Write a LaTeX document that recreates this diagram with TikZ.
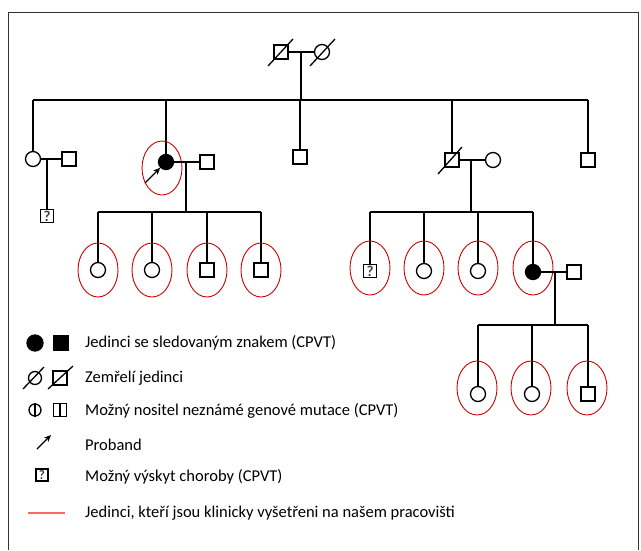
\documentclass[tikz,border=0pt]{standalone}
\usepackage{fontspec}
\setmainfont{Carlito}
\usetikzlibrary{shapes.geometric,arrows.meta,positioning,calc}

\tikzset{
  male/.style={draw, rectangle, minimum size=14pt, inner sep=0pt, line width=1.3pt},
  female/.style={draw, circle, minimum size=15pt, inner sep=0pt, line width=1.3pt},
  affected/.style={fill=black},
  unknown/.style={male, minimum size=13pt, font=\fontsize{15}{15}\selectfont\bfseries, text=black!75},
  exam/.style={draw=red!80!black, ellipse, minimum width=40pt, minimum height=54pt, inner sep=0pt, line width=0.9pt},
  line/.style={line width=1.3pt},
  proband/.style={-{Stealth[length=7pt,width=6pt]}, line width=1.4pt},
  legend/.style={anchor=west, inner sep=0pt, font=\fontsize{16.5}{19}\selectfont},
}

\begin{document}
\begin{tikzpicture}[x=1pt, y=-1pt]
    \useasboundingbox (0,0) rectangle (641,550);
    \draw[line width=1pt, black!80] (8,550) -- (8,12) -- (638,12) -- (638,550); % frame

    % grandparents
    \node[male] (gpa) at (281,52) {};
    \node[female] (gma) at (322,52) {};
    \draw[line] (gpa) -- (gma);
    \draw[line] ($(gpa)+(-13,14)$) -- ($(gpa)+(12,-13)$);
    \draw[line] ($(gma)+(-12,14)$) -- ($(gma)+(13,-13)$);
    \coordinate (m0) at (301,52);
    \coordinate (s0) at (301,100);
    \draw[line] (m0) -- (s0);

    % second generation
    \node[female] (a1) at (33,159) {};
    \node[male] (a1s) at (69,159) {};
    \node[unknown] (a1c) at (47,216) {?};
    \node[female, affected] (a2) at (166,162) {};
    \node[male] (a2s) at (207,162) {};
    \node[male] (a3) at (300,157) {};
    \node[male] (a4) at (452,160) {};
    \node[female] (a4s) at (493,160) {};
    \node[male] (a5) at (588,160) {};
    \draw[line] (a1 |- s0) -- (a5 |- s0);
    \foreach \n in {a1,a2,a3,a4,a5}
        \draw[line] (\n |- s0) -- (\n);
    \draw[line] ($(a4)+(-14,14)$) -- ($(a4)+(10,-13)$); % deceased
    \node[exam] (e0) at (162,168) {};
    \draw[proband] (145,183) -- (a2.south west);

    \draw[line] (a1) -- (a1s);
    \coordinate (m1) at (47,159);
    \draw[line] (m1) -- (a1c);

    \draw[line] (a2) -- (a2s);
    \coordinate (m2) at (186,162);
    \coordinate (s2) at (186,212);
    \draw[line] (m2) -- (s2);

    \draw[line] (a4) -- (a4s);
    \coordinate (m4) at (471,160);
    \coordinate (s4) at (471,212);
    \draw[line] (m4) -- (s4);

    % third generation
    \node[female] (b1) at (98,270) {};
    \node[female] (b2) at (152,270) {};
    \node[male] (b3) at (207,270) {};
    \node[male] (b4) at (261,270) {};
    \draw[line] (b1 |- s2) -- (b4 |- s2);
    \foreach \n in {b1,b2,b3,b4} {
        \draw[line] (\n |- s2) -- (\n);
        \node[exam] at (\n) {};
    }

    \node[unknown] (c1) at (370,271) {?};
    \node[female] (c2) at (424,271) {};
    \node[female] (c3) at (478,271) {};
    \node[female, affected] (c4) at (533,272) {};
    \node[male] (c4s) at (574,272) {};
    \draw[line] (c1 |- s4) -- (c4 |- s4);
    \foreach \n in {c1,c2,c3,c4} {
        \draw[line] (\n |- s4) -- (\n);
        \node[exam] at ($(\n |- s4)+(0,56)$) {};
    }
    \draw[line] (c4) -- (c4s);
    \coordinate (m5) at (555,272);
    \coordinate (s5) at (555,325);
    \draw[line] (m5) -- (s5);

    % fourth generation
    \node[female] (d1) at (478,394) {};
    \node[female] (d2) at (532,394) {};
    \node[male] (d3) at (588,394) {};
    \draw[line] (d1 |- s5) -- (d3 |- s5);
    \foreach \n in {d1,d2,d3} {
        \draw[line] (\n |- s5) -- (\n);
        \node[exam] at ($(\n)+(-1,-6)$) {};
    }

    % legend
    \node[female, affected, minimum size=16pt] (l1a) at (35,343) {};
    \node[male, affected, minimum size=15pt] (l1b) at (61,343) {};
    \node[legend] (t1) at (85,343) {Jedinci se sledovaným znakem (CPVT)};

    \node[female, minimum size=13pt] (l2a) at (35,378) {};
    \node[male, minimum size=14pt] (l2b) at (60,378) {};
    \draw[line] (23,389) -- (44,367);
    \draw[line] (48,389) -- (73,366);
    \node[legend] (t2) at (85,378) {Zemřelí jedinci};

    \node[female, minimum size=12pt] (l3a) at (35,410) {};
    \node[male, minimum size=13pt] (l3b) at (60,410) {};
    \draw[line] (l3a.north) -- (l3a.south);
    \draw[line] (l3b.north) -- (l3b.south);
    \node[legend] (t3) at (85,411) {Možný nositel neznámé genové mutace (CPVT)};

    \coordinate (l4) at (37,449);
    \draw[proband] (l4) -- ++(14,-14);
    \node[legend] (t4) at (85,445) {Proband};

    \node[unknown, minimum size=12pt, font=\fontsize{13}{13}\selectfont\bfseries] (l5) at (42,475) {?};
    \node[legend] (t5) at (85,477) {Možný výskyt choroby (CPVT)};

    \coordinate (l6) at (28,513);
    \draw[line width=1.3pt, red!60] (l6) -- ++(37,0);
    \node[legend] (t6) at (85,513) {Jedinci, kteří jsou klinicky vyšetřeni na našem pracovišti};
\end{tikzpicture}
\end{document}
